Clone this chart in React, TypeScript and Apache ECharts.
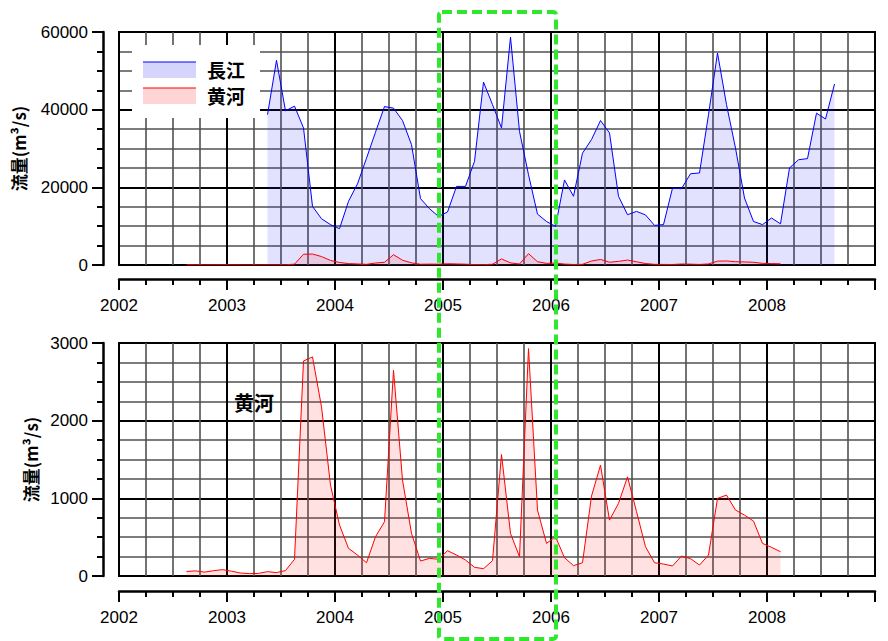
import React, { useEffect, useRef } from "react";
import * as echarts from "echarts";

// 長江 monthly flow (m3/s), May 2003 – Aug 2008
const cjStartYear = 2003;
const cjStartMonth = 5;
const changjiang = [
  38700, 52700, 39700, 40900, 35300, 15100, 11900, 10400,
  9350, 16400, 20900, 27500, 34200, 40800, 40400, 37200, 31000, 17100, 14500, 12500,
  13650, 20240, 20240, 26700, 47100, 41300, 35300, 58700, 34400, 23250, 13100, 11200,
  9940, 21900, 17700, 28800, 32300, 37200, 34000, 17700, 12950, 13800, 12900, 10200,
  10400, 19800, 19650, 23500, 23700, 38700, 54600, 41300, 30100, 17250, 11200, 10400,
  12100, 10600, 25000, 27100, 27400, 39100, 37600, 46600,
];

// 黄河 monthly flow (m3/s), Aug 2002 – Feb 2008
const hhStartYear = 2002;
const hhStartMonth = 8;
const huanghe = [
  58, 66, 50, 68, 82,
  62, 38, 31, 33, 56, 44, 70, 215, 2769, 2821, 2178, 1170,
  656, 356, 270, 171, 506, 699, 2649, 1235, 549, 193, 227, 215,
  326, 270, 206, 112, 94, 197, 1565, 549, 248, 2928, 849, 420,
  506, 236, 133, 171, 1029, 1427, 720, 935, 1277, 830, 377, 171,
  154, 129, 257, 223, 141, 270, 999, 1042, 849, 784, 707, 420,
  369, 313,
];

const yearTicks = [2002, 2003, 2004, 2005, 2006, 2007, 2008, 2009];
const seriesNames = ["長江", "黄河"];
const yName = "流量(m³/s)";

function toPairs(startYear: number, startMonth: number, vals: number[]) {
  return vals.map((v, i) => {
    const m = startMonth - 1 + i;
    const y = startYear + Math.floor(m / 12);
    const mm = (m % 12) + 1;
    return [y + (mm - 0.5) / 12, v];
  });
}

const LABEL_FONT = "'Liberation Sans', Arial, sans-serif";
const CJK_FONT = "'Noto Sans CJK JP', 'Noto Sans CJK SC', sans-serif";

function xAxisCfg(gridIndex: number, offset: number) {
  return {
    type: "value",
    gridIndex,
    min: yearTicks[0],
    max: yearTicks[yearTicks.length - 1],
    interval: 1,
    offset,
    axisLine: { show: true, onZero: false, lineStyle: { color: "#000", width: 2.5 } },
    axisTick: { show: true, length: 11, lineStyle: { color: "#000", width: 2 } },
    minorTick: { show: true, splitNumber: 4, length: 6, lineStyle: { color: "#000", width: 2 } },
    splitLine: { show: true, lineStyle: { color: "#000", width: 2 } },
    minorSplitLine: { show: true, lineStyle: { color: "#505050", width: 1.6 } },
    axisLabel: {
      fontSize: 17,
      color: "#000",
      fontFamily: LABEL_FONT,
      margin: 18,
      formatter: (v: number) => (v === yearTicks[yearTicks.length - 1] ? "" : String(v)),
    },
  };
}

function yAxisCfg(gridIndex: number, max: number, interval: number, nameGap: number) {
  return {
    type: "value",
    gridIndex,
    min: 0,
    max,
    interval,
    offset: 16,
    name: yName,
    nameLocation: "middle",
    nameGap,
    nameRotate: 90,
    nameTextStyle: { fontSize: 17, color: "#000", fontFamily: CJK_FONT, fontWeight: "bold" },
    axisLine: { show: true, onZero: false, lineStyle: { color: "#000", width: 2.5 } },
    axisTick: { show: true, length: 11, lineStyle: { color: "#000", width: 2 } },
    minorTick: { show: true, splitNumber: 4, length: 6, lineStyle: { color: "#000", width: 2 } },
    splitLine: { show: true, lineStyle: { color: "#000", width: 2 } },
    minorSplitLine: { show: true, lineStyle: { color: "#505050", width: 1.6 } },
    axisLabel: {
      fontSize: 17,
      color: "#000",
      fontFamily: LABEL_FONT,
      margin: 15,
      formatter: (v: number) => String(v),
    },
  };
}

export default function App() {
  const ref = useRef<HTMLDivElement>(null);
  useEffect(() => {
    if (!ref.current) return;
    const chart = echarts.init(ref.current, undefined, { renderer: "svg" });
    const cj = toPairs(cjStartYear, cjStartMonth, changjiang);
    const hh = toPairs(hhStartYear, hhStartMonth, huanghe);
    const blueLine = "#0000ff";
    const blueFill = "rgba(40,40,255,0.19)";
    const redLine = "#ff0000";
    const redFill = "rgba(255,40,40,0.2)";
    const legendText = {
      fontSize: 19,
      lineHeight: 19,
      fontWeight: "bold",
      fontFamily: CJK_FONT,
      fill: "#000",
      verticalAlign: "middle",
    };
    chart.setOption({
      animation: false,
      backgroundColor: "#fff",
      grid: [
        { left: 119, top: 32, width: 756, height: 233, show: true, borderColor: "#000", borderWidth: 2 },
        { left: 119, top: 343, width: 756, height: 233, show: true, borderColor: "#000", borderWidth: 2 },
      ],
      xAxis: [xAxisCfg(0, 14), xAxisCfg(1, 15)],
      yAxis: [yAxisCfg(0, 60000, 20000, 76), yAxisCfg(1, 3000, 1000, 64)],
      series: [
        {
          name: seriesNames[0],
          type: "line",
          xAxisIndex: 0,
          yAxisIndex: 0,
          data: cj,
          symbol: "none",
          lineStyle: { color: blueLine, width: 1 },
          areaStyle: { color: blueFill },
        },
        {
          name: seriesNames[1],
          type: "line",
          xAxisIndex: 0,
          yAxisIndex: 0,
          data: hh,
          symbol: "none",
          lineStyle: { color: redLine, width: 1 },
          areaStyle: { color: redFill },
        },
        {
          name: seriesNames[1],
          type: "line",
          xAxisIndex: 1,
          yAxisIndex: 1,
          data: hh,
          symbol: "none",
          lineStyle: { color: redLine, width: 1 },
          areaStyle: { color: redFill },
        },
      ],
      graphic: [
        { type: "rect", shape: { x: 132, y: 45, width: 128, height: 73 }, style: { fill: "#fff" }, z: 100 },
        { type: "rect", shape: { x: 143, y: 62, width: 53, height: 16 }, style: { fill: "#d4d4fc" }, z: 101 },
        { type: "line", shape: { x1: 143, y1: 62, x2: 196, y2: 62 }, style: { stroke: blueLine, lineWidth: 1.2 }, z: 102 },
        { type: "text", x: 207, y: 69, z: 102, style: { ...legendText, text: seriesNames[0] } },
        { type: "rect", shape: { x: 143, y: 88, width: 53, height: 16 }, style: { fill: "#ffd4d4" }, z: 101 },
        { type: "line", shape: { x1: 143, y1: 88, x2: 196, y2: 88 }, style: { stroke: redLine, lineWidth: 1.2 }, z: 102 },
        { type: "text", x: 207, y: 95, z: 102, style: { ...legendText, text: seriesNames[1] } },
        { type: "text", x: 234, y: 402, z: 102, style: { ...legendText, fontSize: 20, lineHeight: 20, text: seriesNames[1] } },
        {
          type: "rect", z: 110,
          shape: { x: 439, y: 12, width: 117, height: 627, r: 3 },
          style: { fill: "none", stroke: "#2ee82e", lineWidth: 4, lineDash: [10, 5] },
        },
      ],
    });
    return () => chart.dispose();
  }, []);
  return (
    <div
      ref={ref}
      style={{ position: "absolute", left: 0, top: 0, width: 888, height: 641 }}
    />
  );
}
